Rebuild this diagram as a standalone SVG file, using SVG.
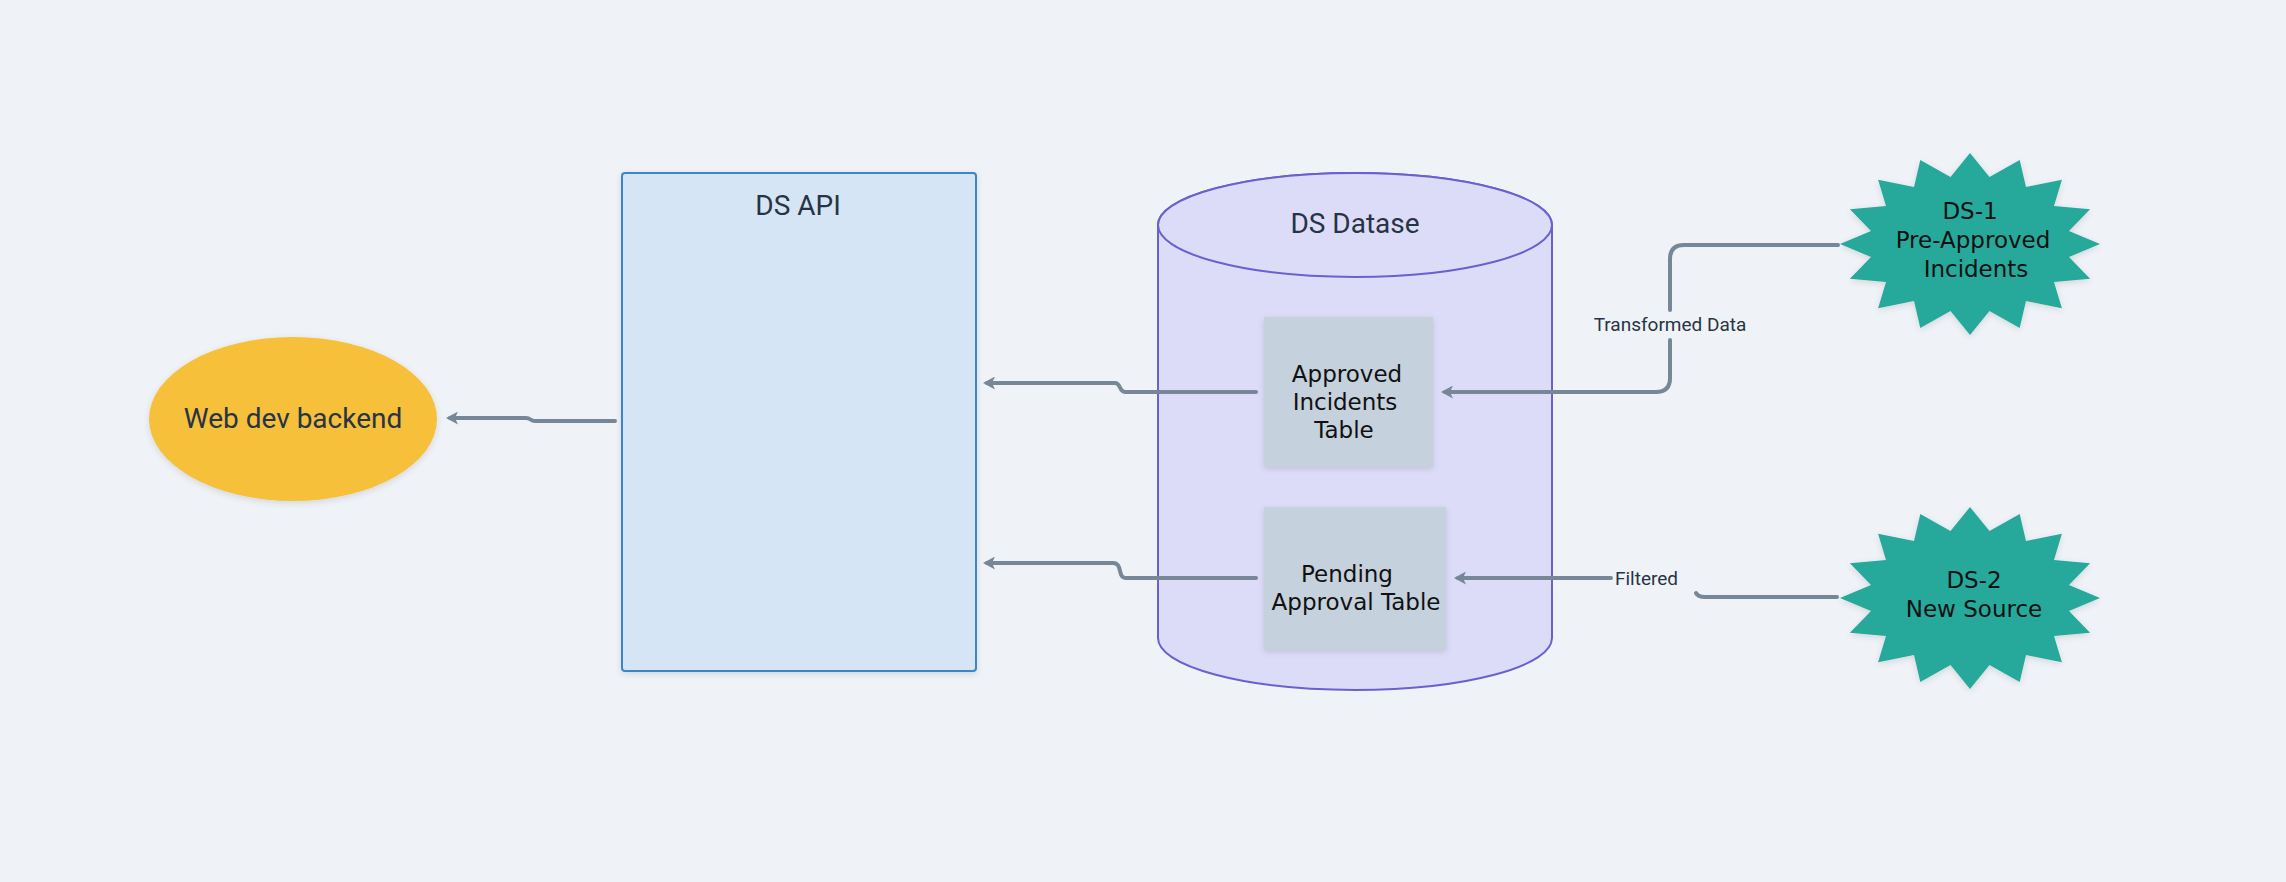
<svg xmlns="http://www.w3.org/2000/svg" width="2286" height="882" viewBox="0 0 2286 882">
  <style>
    .title { font-family: Roboto, "Noto Sans", sans-serif; font-size: 28px; font-weight: 400; fill: #283345; text-anchor: middle; }
    .lbl { font-family: Roboto, "Noto Sans", sans-serif; font-size: 19px; fill: #283345; }
    .body { font-family: "DejaVu Sans", sans-serif; font-size: 23px; fill: #111111; text-anchor: middle; }
    .conn { fill: none; stroke: #778797; stroke-width: 4; stroke-linecap: round; stroke-linejoin: round; }
    .tbl { fill: #c5d1dc; }
    .burst { fill: #27a99a; }
  </style>
  <defs>
    <filter id="sh" x="-10%" y="-10%" width="120%" height="130%">
      <feDropShadow dx="0" dy="2" stdDeviation="3" flood-color="#000" flood-opacity="0.12"/>
    </filter>
    <marker id="ah" markerUnits="userSpaceOnUse" viewBox="0 0 12 13" markerWidth="12" markerHeight="13" refX="8" refY="6.5" orient="auto">
      <path d="M0,0 L12,6.5 L0,13 L3,6.5 Z" fill="#778797"/>
    </marker>
    <path id="burstShape" d="M0,-91 L19.5,-67 L49.7,-84.1 L56,-57 L91.9,-64.3 L84,-38 L120.1,-34.8 L99,-13 L130,0 L99,13 L120.1,34.8 L84,38 L91.9,64.3 L56,57 L49.7,84.1 L19.5,67 L0,91 L-19.5,67 L-49.7,84.1 L-56,57 L-91.9,64.3 L-84,38 L-120.1,34.8 L-99,13 L-130,0 L-99,-13 L-120.1,-34.8 L-84,-38 L-91.9,-64.3 L-56,-57 L-49.7,-84.1 L-19.5,-67 Z"/>
  </defs>

  <rect x="0" y="0" width="2286" height="882" fill="#eff3f8"/>

  <g id="web-dev-backend">
    <ellipse cx="293" cy="419" rx="144" ry="82" fill="#f6c03b" filter="url(#sh)"/>
    <text class="title" x="293" y="428">Web dev backend</text>
  </g>

  <g id="ds-api">
    <rect x="622" y="173" width="354" height="498" rx="3" fill="#d5e5f5" stroke="#3d85c6" stroke-width="2" filter="url(#sh)"/>
    <text class="title" x="798" y="215">DS API</text>
  </g>

  <g id="ds-database">
    <path d="M1158,225 V638 A197,52 0 0 0 1552,638 V225 A197,52 0 0 0 1158,225 Z" fill="#dcdcf9" stroke="#6b5fd1" stroke-width="2"/>
    <ellipse cx="1355" cy="225" rx="197" ry="52" fill="#dcdcf9" stroke="#6b5fd1" stroke-width="2"/>
    <text class="title" x="1355" y="233">DS Datase</text>
  </g>

  <g id="approved-incidents-table">
    <rect class="tbl" x="1264" y="317" width="169" height="150" filter="url(#sh)"/>
    <text class="body" x="1347" y="382">Approved</text>
    <text class="body" x="1345" y="410">Incidents</text>
    <text class="body" x="1344" y="438">Table</text>
  </g>

  <g id="pending-approval-table">
    <rect class="tbl" x="1264" y="507" width="182" height="143" filter="url(#sh)"/>
    <text class="body" x="1347" y="582">Pending</text>
    <text class="body" x="1356" y="610">Approval Table</text>
  </g>

  <g id="ds-1">
    <use href="#burstShape" class="burst" transform="translate(1970,244)" filter="url(#sh)"/>
    <text class="body" x="1970" y="219">DS-1</text>
    <text class="body" x="1973" y="248">Pre-Approved</text>
    <text class="body" x="1976" y="277">Incidents</text>
  </g>

  <g id="ds-2">
    <use href="#burstShape" class="burst" transform="translate(1970,598)" filter="url(#sh)"/>
    <text class="body" x="1974" y="588">DS-2</text>
    <text class="body" x="1974" y="617">New Source</text>
  </g>

  <g id="connectors">
    <path class="conn" d="M615,421 H535 C530,421 531,418 526,418 H450" marker-end="url(#ah)"/>
    <path class="conn" d="M1256,392 H1125 C1119,392 1121,383 1115,383 H987" marker-end="url(#ah)"/>
    <path class="conn" d="M1256,578 H1126 C1117,578 1123,563 1113,563 H987" marker-end="url(#ah)"/>
    <path class="conn" d="M1838,245 H1684 Q1670,245 1670,259 V310"/>
    <path class="conn" d="M1670,340 V378 Q1670,392 1656,392 H1445" marker-end="url(#ah)"/>
    <text class="lbl" x="1670" y="331" text-anchor="middle">Transformed Data</text>
    <path class="conn" d="M1837,597 H1705 Q1698,597 1696,593"/>
    <path class="conn" d="M1611,578 H1458" marker-end="url(#ah)"/>
    <text class="lbl" x="1615" y="585">Filtered</text>
  </g>
</svg>
